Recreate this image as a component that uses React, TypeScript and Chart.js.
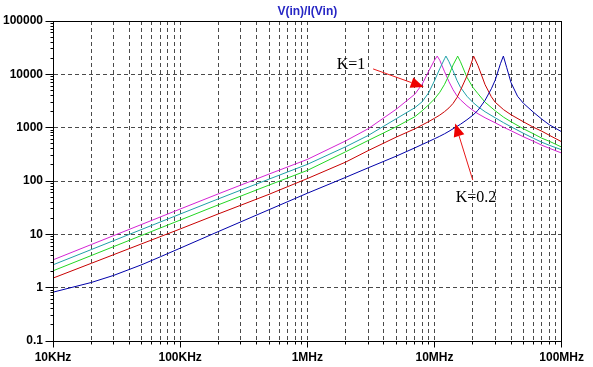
import React, { useEffect, useRef } from 'react';
import { Chart, registerables } from 'chart.js';

Chart.register(...registerables);

// ---------- axes ----------
const X_MIN = 1e4;
const X_MAX = 1e8;
const Y_MIN = 0.1;
const Y_MAX = 1e5;
const X_MAJOR = [1e4, 1e5, 1e6, 1e7, 1e8];
const X_LABELS = ['10KHz', '100KHz', '1MHz', '10MHz', '100MHz'];
const Y_MAJOR = [0.1, 1, 10, 100, 1000, 10000, 100000];
const Y_LABELS = ['0.1', '1', '10', '100', '1000', '10000', '100000'];
const MINOR_MULT = [2, 3, 4, 5, 6, 7, 8, 9];

const TITLE = 'V(in)/I(Vin)';

// ---------- series (frequency in Hz, impedance in ohm) ----------
const F_MAGENTA = [1e4, 2e4, 5e4, 1e5, 2e5, 5e5, 1e6, 2e6, 3e6, 5e6, 7e6, 8e6, 9e6, 1e7, 1.05e7, 1.1e7, 1.2e7, 1.3e7, 1.4e7, 1.5e7, 1.6e7, 1.8e7, 2e7, 2.2e7, 2.5e7, 3e7, 3.5e7, 4e7, 5e7, 6e7, 7e7, 8e7, 1e8];
const V_MAGENTA = [3.32, 6.43, 15.4, 29.8, 57.5, 135, 254, 565, 950, 2214, 4232, 6520, 11430, 18390, 22000, 18390, 11190, 7262, 5140, 3967, 3337, 2576, 2120, 1822, 1533, 1236, 1017, 875, 675, 556, 467, 411, 334];

const F_CYAN = [1e4, 2e4, 5e4, 1e5, 2e5, 5e5, 1e6, 2e6, 3e6, 5e6, 7e6, 8e6, 9e6, 1e7, 1.1e7, 1.2e7, 1.23e7, 1.3e7, 1.4e7, 1.5e7, 1.6e7, 1.8e7, 2e7, 2.2e7, 2.5e7, 3e7, 3.5e7, 4e7, 5e7, 6e7, 7e7, 8e7, 1e8];
const V_CYAN = [2.68, 5.18, 12.4, 24.0, 46.3, 108.5, 205, 438, 711, 1469, 2362, 3061, 4515, 7585, 12740, 19620, 22000, 17240, 11680, 7750, 5726, 3882, 2996, 2467, 1988, 1533, 1236, 1039, 785, 633, 532, 467, 385];

const F_GREEN = [1e4, 2e4, 5e4, 1e5, 2e5, 5e5, 1e6, 2e6, 3e6, 5e6, 7e6, 8e6, 9e6, 1e7, 1.1e7, 1.2e7, 1.3e7, 1.4e7, 1.5e7, 1.52e7, 1.6e7, 1.8e7, 2e7, 2.2e7, 2.5e7, 3e7, 3.5e7, 4e7, 5e7, 6e7, 7e7, 8e7, 1e8];
const V_GREEN = [2.07, 4.0, 9.58, 18.5, 35.8, 83.8, 158, 353, 573, 1039, 1601, 2075, 2689, 3450, 4600, 6500, 9700, 15000, 20480, 22000, 17240, 8821, 5726, 4325, 2996, 2075, 1567, 1290, 954, 768, 633, 556, 432];

const F_RED = [1e4, 2e4, 5e4, 1e5, 2e5, 5e5, 1e6, 2e6, 3e6, 5e6, 7e6, 8e6, 9e6, 1e7, 1.1e7, 1.2e7, 1.3e7, 1.4e7, 1.5e7, 1.6e7, 1.7e7, 1.8e7, 1.9e7, 2e7, 2.03e7, 2.2e7, 2.5e7, 2.8e7, 3e7, 3.5e7, 4e7, 5e7, 6e7, 7e7, 8e7, 1e8];
const V_RED = [1.51, 2.86, 6.66, 12.6, 24.2, 56.3, 111, 226, 370, 665, 950, 1120, 1300, 1500, 1720, 2000, 2350, 2850, 3650, 5000, 6900, 9300, 13500, 19500, 22000, 14500, 6380, 3798, 3000, 2167, 1746, 1290, 1017, 856, 720, 544];

const F_BLUE = [1e4, 2e4, 3e4, 5e4, 7e4, 1e5, 2e5, 5e5, 1e6, 2e6, 3e6, 5e6, 7e6, 8e6, 9e6, 1e7, 1.1e7, 1.2e7, 1.3e7, 1.4e7, 1.5e7, 1.6e7, 1.8e7, 2e7, 2.2e7, 2.5e7, 2.8e7, 3e7, 3.3e7, 3.48e7, 3.7e7, 4e7, 4.5e7, 5e7, 6e7, 7e7, 8e7, 1e8];
const V_BLUE = [0.823, 1.25, 1.7, 2.7, 3.8, 5.5, 11.3, 29.0, 59.0, 117, 176, 292, 418, 484, 550, 619, 690, 768, 856, 954, 1053, 1158, 1407, 1708, 2120, 3266, 5369, 7750, 15800, 22000, 13300, 6958, 3882, 2869, 1945, 1438, 1133, 838];

const SERIES = [
  { name: 'K=0.2', f: F_BLUE, v: V_BLUE, color: '#0000aa' },
  { name: 'K=0.4', f: F_RED, v: V_RED, color: '#c80000' },
  { name: 'K=0.6', f: F_GREEN, v: V_GREEN, color: '#22d622' },
  { name: 'K=0.8', f: F_CYAN, v: V_CYAN, color: '#1ea0a8' },
  { name: 'K=1', f: F_MAGENTA, v: V_MAGENTA, color: '#d424d4' },
];

// annotations, in data units (Hz, ohm)
const ANNOTATIONS = [
  { text: 'K=1', tf: 1.7e6, tv: 12400, ff: 3.29e6, fv: 12640, af: 8.23e6, av: 5786 },
  { text: 'K=0.2', tf: 1.47e7, tv: 40.9, ff: 2.0e7, fv: 104, af: 1.455e7, av: 1197 },
];

const TICK_FONT = { family: '"Liberation Sans", Arial, sans-serif', size: 12, weight: 'bold' as const };

function align(p: number) {
  return Math.round(p - 0.5) + 0.5;
}

const decorPlugin = {
  id: 'decor',
  afterDraw(chart: any) {
    const { ctx, chartArea: a, scales } = chart;
    const xs = scales.x;
    const ys = scales.y;
    ctx.save();
    ctx.strokeStyle = '#000';
    ctx.lineWidth = 1;
    ctx.setLineDash([]);
    // frame
    const L = align(a.left), R = align(a.right), T = align(a.top), B = align(a.bottom);
    ctx.strokeRect(L, T, R - L, B - T);
    // tick marks
    ctx.beginPath();
    X_MAJOR.forEach((d) => {
      const px = align(xs.getPixelForValue(d));
      ctx.moveTo(px, B);
      ctx.lineTo(px, B + 6);
      if (d < X_MAX) {
        MINOR_MULT.forEach((m) => {
          const p = align(xs.getPixelForValue(d * m));
          ctx.moveTo(p, B);
          ctx.lineTo(p, B + 3);
        });
      }
    });
    Y_MAJOR.forEach((d) => {
      const py = align(ys.getPixelForValue(d));
      ctx.moveTo(L, py);
      ctx.lineTo(L - 8, py);
      if (d < Y_MAX) {
        MINOR_MULT.forEach((m) => {
          const p = align(ys.getPixelForValue(d * m));
          ctx.moveTo(L, p);
          ctx.lineTo(L - 3, p);
        });
      }
    });
    ctx.stroke();

    // title
    ctx.fillStyle = '#2626c4';
    ctx.font = 'bold 12px "Liberation Sans", Arial, sans-serif';
    ctx.textAlign = 'center';
    ctx.textBaseline = 'middle';
    ctx.fillText(TITLE, (a.left + a.right) / 2, 12);

    // annotations
    ANNOTATIONS.forEach((an) => {
      const tx = xs.getPixelForValue(an.tf);
      const ty = ys.getPixelForValue(an.tv);
      ctx.fillStyle = '#000';
      ctx.font = '16px "Liberation Serif", "Times New Roman", serif';
      ctx.textAlign = 'left';
      ctx.textBaseline = 'alphabetic';
      ctx.fillText(an.text, tx, ty);

      const x1 = xs.getPixelForValue(an.ff);
      const y1 = ys.getPixelForValue(an.fv);
      const x2 = xs.getPixelForValue(an.af);
      const y2 = ys.getPixelForValue(an.av);
      const ang = Math.atan2(y2 - y1, x2 - x1);
      const len = 13;
      const hw = 5.5;
      const bx = x2 - len * Math.cos(ang);
      const by = y2 - len * Math.sin(ang);
      ctx.strokeStyle = '#e81818';
      ctx.lineWidth = 1;
      ctx.beginPath();
      ctx.moveTo(x1, y1);
      ctx.lineTo(bx, by);
      ctx.stroke();
      ctx.fillStyle = '#ee0000';
      ctx.beginPath();
      ctx.moveTo(x2, y2);
      ctx.lineTo(bx + hw * Math.sin(ang), by - hw * Math.cos(ang));
      ctx.lineTo(bx - hw * Math.sin(ang), by + hw * Math.cos(ang));
      ctx.closePath();
      ctx.fill();
    });
    ctx.restore();
  },
};

export default function App() {
  const canvasRef = useRef<HTMLCanvasElement | null>(null);

  useEffect(() => {
    document.body.style.margin = '0';
    document.body.style.overflow = 'hidden';
    const canvas = canvasRef.current;
    if (!canvas) return;

    const xTicks: number[] = [];
    X_MAJOR.forEach((d) => {
      xTicks.push(d);
      if (d < X_MAX) MINOR_MULT.forEach((m) => xTicks.push(d * m));
    });

    const chart = new Chart(canvas, {
      type: 'line',
      data: {
        datasets: SERIES.map((s) => ({
          label: s.name,
          data: s.f.map((f, i) => ({ x: f, y: s.v[i] })),
          borderColor: s.color,
          backgroundColor: s.color,
          borderWidth: 1,
          pointRadius: 0,
          tension: 0,
          fill: false,
        })),
      },
      options: {
        animation: false,
        responsive: false,
        maintainAspectRatio: false,
        devicePixelRatio: 1,
        layout: { padding: { top: 21, right: 31, bottom: 0, left: 0 } },
        plugins: {
          legend: { display: false },
          tooltip: { enabled: false },
          title: { display: false },
        },
        scales: {
          x: {
            type: 'logarithmic',
            min: X_MIN,
            max: X_MAX,
            afterBuildTicks: (axis: any) => {
              axis.ticks = xTicks.map((v) => ({ value: v }));
            },
            afterFit: (axis: any) => {
              axis.height = 26;
            },
            ticks: {
              autoSkip: false,
              maxRotation: 0,
              minRotation: 0,
              padding: 9,
              color: '#000',
              font: TICK_FONT,
              callback: (value: any) => {
                const idx = X_MAJOR.findIndex((d) => Math.abs(d - Number(value)) / d < 1e-6);
                return idx >= 0 ? X_LABELS[idx] : '';
              },
            },
            grid: { color: '#4a4a4a', lineWidth: 1, drawTicks: false },
            border: { display: true, color: '#000', width: 1, dash: [4, 3] },
          },
          y: {
            type: 'logarithmic',
            min: Y_MIN,
            max: Y_MAX,
            afterBuildTicks: (axis: any) => {
              axis.ticks = Y_MAJOR.map((v) => ({ value: v }));
            },
            afterFit: (axis: any) => {
              axis.width = 53;
            },
            ticks: {
              autoSkip: false,
              padding: 10,
              color: '#000',
              font: TICK_FONT,
              callback: (value: any) => {
                const idx = Y_MAJOR.findIndex((d) => Math.abs(d - Number(value)) / d < 1e-6);
                return idx >= 0 ? Y_LABELS[idx] : '';
              },
            },
            grid: { color: '#4a4a4a', lineWidth: 1, drawTicks: false },
            border: { display: true, color: '#000', width: 1, dash: [4, 3] },
          },
        },
      },
      plugins: [decorPlugin],
    } as any);

    return () => {
      chart.destroy();
    };
  }, []);

  return (
    <div style={{ width: 593, height: 367, background: '#fff' }}>
      <canvas ref={canvasRef} width={593} height={367} style={{ display: 'block' }} />
    </div>
  );
}
